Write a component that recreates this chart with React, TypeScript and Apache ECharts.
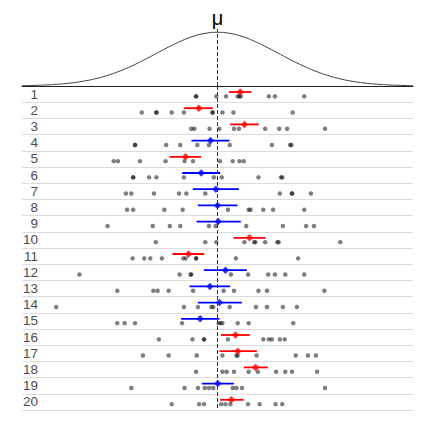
import React, { useEffect, useRef } from "react";
import * as echarts from "echarts";

const rowLabels = ["1","2","3","4","5","6","7","8","9","10","11","12","13","14","15","16","17","18","19","20"];

const samples: number[][] = [
  [-0.35, -0.35, -0.02, 0.14, 0.33, 0.36, 0.38, 0.84, 0.94, 1.42],
  [-1.24, -1.0, -1.0, -0.75, -0.55, -0.08, -0.08, 0.08, 0.26, 1.23],
  [-0.43, -0.38, -0.13, 0.03, 0.27, 0.35, 0.78, 1.01, 1.14, 1.76],
  [-1.35, -1.35, -0.84, -0.61, -0.33, -0.14, 0.2, 0.89, 1.19, 1.21],
  [-1.7, -1.63, -1.27, -0.85, -0.54, -0.4, 0.04, 0.25, 0.36, 0.43],
  [-1.38, -1.38, -1.12, -1.0, -0.55, -0.06, 0.07, 0.67, 1.04, 1.06],
  [-1.5, -1.41, -1.04, -0.63, -0.51, -0.2, 1.02, 1.22, 1.22, 1.53],
  [-1.48, -1.38, -0.87, -0.57, 0.17, 0.51, 0.54, 0.75, 0.91, 1.42],
  [-1.8, -1.06, -0.78, -0.61, -0.14, -0.03, 0.47, 1.07, 1.45, 1.58],
  [-1.01, -0.2, -0.02, 0.44, 0.6, 0.62, 0.78, 0.98, 1.0, 2.01],
  [-1.39, -1.2, -1.1, -0.91, -0.56, -0.52, -0.35, -0.35, 0.3, 1.32],
  [-2.26, -0.62, -0.44, -0.43, 0.22, 0.5, 0.83, 0.94, 1.11, 1.42],
  [-1.64, -1.05, -0.98, -0.8, -0.4, 0.1, 0.27, 0.67, 0.81, 1.75],
  [-2.64, -0.55, -0.32, -0.1, -0.07, 0.2, 0.63, 0.81, 1.07, 1.3],
  [-1.64, -1.52, -1.35, -0.58, 0.02, 0.05, 0.08, 0.33, 0.51, 1.24],
  [-0.96, -0.41, -0.22, -0.22, 0.17, 0.75, 0.84, 0.89, 1.02, 1.1],
  [-1.22, -0.8, -0.34, 0.08, 0.31, 0.33, 0.64, 1.28, 1.48, 1.61],
  [-0.35, 0.08, 0.15, 0.27, 0.51, 0.66, 0.96, 1.11, 1.22, 1.63],
  [-1.41, -0.54, -0.32, -0.21, -0.14, -0.07, 0.25, 0.31, 0.4, 1.76],
  [-0.75, -0.3, -0.22, 0.06, 0.13, 0.21, 0.5, 0.69, 0.95, 1.06],
];

const means = [0.371, -0.306, 0.442, -0.115, -0.524, -0.267, -0.027, 0.0, 0.01, 0.524,
  -0.475, 0.131, -0.125, 0.033, -0.284, 0.295, 0.333, 0.622, 0.005, 0.229];
const ciLower = [0.185, -0.551, 0.207, -0.426, -0.786, -0.578, -0.404, -0.322, -0.344, 0.262,
  -0.737, -0.224, -0.458, -0.322, -0.595, 0.055, 0.033, 0.431, -0.256, 0.044];
const ciUpper = [0.556, -0.076, 0.676, 0.196, -0.267, 0.044, 0.349, 0.327, 0.382, 0.786,
  -0.218, 0.48, 0.207, 0.398, 0.033, 0.529, 0.644, 0.824, 0.267, 0.426];

const mu = 0;
const curveX = [-3.2, -3.0, -2.8, -2.6, -2.4, -2.2, -2.0, -1.8, -1.6, -1.4, -1.2, -1.0, -0.8, -0.6, -0.4, -0.2, 0,
  0.2, 0.4, 0.6, 0.8, 1.0, 1.2, 1.4, 1.6, 1.8, 2.0, 2.2, 2.4, 2.6, 2.8, 3.0, 3.2];
const curveY = [0.0024, 0.0044, 0.0079, 0.0136, 0.0224, 0.0355, 0.054, 0.079, 0.1109, 0.1497, 0.1942, 0.242, 0.2897,
  0.3332, 0.3683, 0.391, 0.3989, 0.391, 0.3683, 0.3332, 0.2897, 0.242, 0.1942, 0.1497, 0.1109, 0.079, 0.054,
  0.0355, 0.0224, 0.0136, 0.0079, 0.0044, 0.0024];

const FONT = "Liberation Sans, Arial, sans-serif";

export default function App() {
  const ref = useRef<HTMLDivElement>(null);
  useEffect(() => {
    if (!ref.current) return;
    const chart = echarts.init(ref.current, null, { renderer: "svg" });
    const DIAMOND_OFF = 0.37;
    const POINT_OFF = 0.64;
    const pointData: number[][] = [];
    samples.forEach((row, i) => row.forEach((v) => pointData.push([v, i + POINT_OFF])));
    const colorOf = (i: number) => (ciLower[i] > mu || ciUpper[i] < mu ? "#ff0000" : "#0000ff");
    const ciData = means.map((m, i) => [ciLower[i], ciUpper[i], i + DIAMOND_OFF, i]);
    const meanData = means.map((m, i) => ({ value: [m, i + DIAMOND_OFF], itemStyle: { color: colorOf(i) } }));

    chart.setOption({
      animation: false,
      backgroundColor: "#ffffff",
      grid: [
        { left: 22, right: 22, top: 29, bottom: 349 },
        { left: 22, right: 22, top: 86, bottom: 25 },
      ],
      xAxis: [
        {
          gridIndex: 0, type: "value", min: -3.2, max: 3.2,
          axisLine: { show: true, lineStyle: { color: "#222", width: 1.2 } },
          axisTick: { show: false }, axisLabel: { show: false }, splitLine: { show: false },
        },
        {
          gridIndex: 1, type: "value", min: -3.2, max: 3.2, show: false,
        },
      ],
      yAxis: [
        { gridIndex: 0, type: "value", min: 0, max: 0.4235, show: false },
        { gridIndex: 1, type: "value", min: 0, max: 20, inverse: true, show: false },
        {
          gridIndex: 1, type: "category", data: rowLabels, inverse: true, position: "left",
          axisLine: { show: false }, axisTick: { show: false, interval: 0 },
          axisLabel: { inside: true, interval: 0, margin: 16, align: "right", color: "#4d4d4d", fontSize: 13.5, fontFamily: FONT },
          splitLine: { show: true, interval: 0, lineStyle: { color: "#dcdcdc", width: 1 } },
        },
      ],
      series: [
        {
          type: "line", xAxisIndex: 0, yAxisIndex: 0,
          data: curveX.map((x, i) => [x, curveY[i]]),
          smooth: true, showSymbol: false, silent: true,
          lineStyle: { color: "#3a3a3a", width: 1 },
          markLine: {
            silent: true, symbol: "none",
            lineStyle: { color: "#333", type: [4, 2], width: 1 },
            label: { show: true, position: "end", formatter: "μ", fontSize: 20, color: "#000", fontFamily: FONT, distance: 1 },
            data: [{ xAxis: mu }],
          },
        },
        {
          type: "scatter", xAxisIndex: 1, yAxisIndex: 1,
          data: pointData, symbolSize: 4.5,
          itemStyle: { color: "#000", opacity: 0.5 },
          silent: true,
          markLine: {
            silent: true, symbol: "none",
            lineStyle: { color: "#333", type: [4, 2], width: 1 },
            label: { show: false },
            data: [{ xAxis: mu }],
          },
        },
        {
          type: "custom", xAxisIndex: 1, yAxisIndex: 1,
          data: ciData, silent: true,
          renderItem: (params: any, api: any) => {
            const p1 = api.coord([api.value(0), api.value(2)]);
            const p2 = api.coord([api.value(1), api.value(2)]);
            const i = api.value(3);
            return {
              type: "line",
              shape: { x1: p1[0], y1: p1[1], x2: p2[0], y2: p2[1] },
              style: { stroke: colorOf(i), lineWidth: 1.8 },
            };
          },
        },
        {
          type: "scatter", xAxisIndex: 1, yAxisIndex: 1,
          data: meanData, symbol: "diamond", symbolSize: 7.5, silent: true,
        },
      ],
    });
    return () => chart.dispose();
  }, []);
  return (
    <div
      ref={ref}
      style={{ position: "fixed", left: 0, top: 0, width: 435, height: 435, background: "#fff" }}
    />
  );
}
